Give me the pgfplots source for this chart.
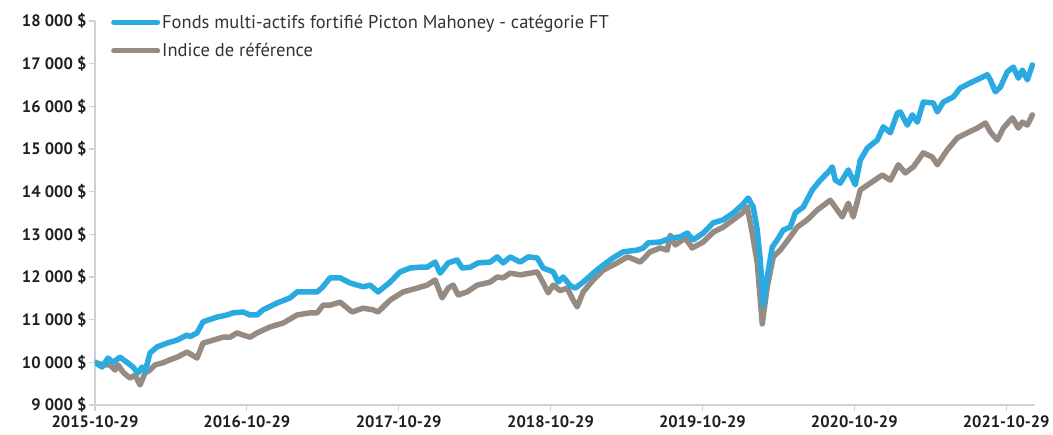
\documentclass[border=0pt]{standalone}
\usepackage{pgfplots}
\pgfplotsset{compat=1.18}
\usepackage{pgfplotstable}
\usepackage{fontspec}
\setmainfont{PT Sans}
\definecolor{fundblue}{HTML}{29ABE2}
\definecolor{idxgrey}{HTML}{968B82}
\definecolor{axgrey}{HTML}{D0D0D0}

% x = horizontal position (px), converted to years since 2015-10-29
\pgfplotstableread{
px val
95 10000
102 9890
108 10100
113 10000
120 10120
127 10000
133 9890
138 9750
142 9890
145 9770
150 10220
157 10360
167 10450
177 10520
187 10640
190 10600
197 10690
203 10950
217 11060
227 11110
233 11160
243 11180
250 11110
257 11110
263 11230
277 11390
290 11510
297 11650
317 11650
322 11750
330 11980
340 11980
350 11860
363 11770
370 11810
378 11650
390 11880
400 12120
410 12210
420 12230
427 12230
435 12350
440 12090
448 12330
457 12400
462 12210
470 12230
478 12330
490 12350
497 12470
503 12330
510 12470
520 12350
528 12470
537 12450
543 12210
553 12120
558 11880
563 12000
570 11800
575 11740
583 11880
593 12090
603 12280
613 12450
623 12590
637 12630
643 12680
648 12800
660 12820
670 12910
680 12940
687 13030
693 12870
703 13030
713 13270
723 13340
733 13500
742 13690
748 13850
753 13640
757 13100
760 12400
763 11350
767 12000
772 12700
777 12870
783 13100
790 13170
795 13500
803 13640
812 14040
820 14270
828 14460
832 14580
835 14270
840 14200
848 14510
855 14160
860 14740
867 15020
877 15210
883 15520
890 15380
897 15840
900 15870
907 15560
912 15800
917 15630
923 16100
933 16080
937 15870
943 16100
953 16220
960 16430
970 16550
980 16660
987 16740
990 16620
995 16340
1000 16450
1007 16810
1013 16920
1018 16660
1022 16850
1027 16620
1032 16970
}\fund

\pgfplotstableread{
px val
95 10000
103 9940
110 9940
115 9820
118 9940
123 9770
130 9630
135 9700
140 9470
145 9750
150 9820
155 9940
163 9990
170 10060
177 10120
187 10240
190 10200
197 10100
203 10450
213 10520
223 10590
230 10590
237 10690
243 10640
250 10590
257 10690
270 10830
283 10920
297 11110
310 11160
317 11160
323 11340
330 11340
340 11410
352 11180
363 11270
373 11230
378 11180
390 11460
403 11650
417 11740
427 11810
435 11930
442 11510
448 11740
453 11810
458 11580
467 11650
477 11810
490 11880
497 12000
503 11980
510 12090
520 12050
530 12090
537 12120
543 11860
548 11630
553 11810
560 11680
567 11740
573 11460
577 11300
583 11650
593 11930
603 12160
617 12330
627 12470
630 12450
640 12350
650 12590
660 12680
667 12630
670 12980
675 12750
685 12910
692 12680
703 12820
713 13050
723 13170
733 13340
742 13500
747 13640
752 13030
757 12330
762 10900
767 11770
773 12470
780 12630
790 12940
797 13170
807 13340
817 13570
830 13800
837 13570
842 13410
848 13730
853 13410
860 14040
870 14200
882 14390
890 14270
898 14630
905 14440
913 14580
923 14910
932 14810
937 14630
947 14980
957 15260
967 15380
977 15490
985 15610
990 15400
997 15210
1003 15490
1012 15730
1018 15490
1022 15630
1027 15560
1032 15800
}\index

\begin{document}
\begin{tikzpicture}
\begin{axis}[
  scale only axis,
  width=940pt, height=384pt,
  xmin=0, xmax=6.19,
  ymin=9000, ymax=18000,
  scaled y ticks=false,
  axis x line=bottom, axis y line=left,
  axis line style={draw=axgrey, line width=1.2pt, -},
  xtick={0,1,2,3,4,5,6},
  xticklabels={2015-10-29,2016-10-29,2017-10-29,2018-10-29,2019-10-29,2020-10-29,2021-10-29},
  ytick={9000,10000,11000,12000,13000,14000,15000,16000,17000,18000},
  yticklabels={9 000 \$,10 000 \$,11 000 \$,12 000 \$,13 000 \$,14 000 \$,15 000 \$,16 000 \$,17 000 \$,18 000 \$},
  tick align=outside,
  major tick length=6pt,
  tick style={draw=axgrey, line width=1.2pt},
  ticklabel style={font=\fontsize{16.5}{18}\selectfont\bfseries, text=black!88},
  yticklabel style={xshift=1pt},
  xticklabel style={yshift=-1pt},
  legend style={draw=none, fill=none, at={(0.017,1.022)}, anchor=north west,
    font=\fontsize{18.5}{20}\selectfont, row sep=10pt, inner sep=0pt,
    text=black!80, cells={anchor=west}},
  legend cell align=left,
  legend image code/.code={\draw[line width=5pt, line cap=round, #1] (0pt,0pt) -- (44pt,0pt);},
]
\addlegendimage{fundblue}
\addlegendentry{Fonds multi-actifs fortifié Picton Mahoney - catégorie FT}
\addlegendimage{idxgrey}
\addlegendentry{Indice de référence}
\addplot[forget plot, idxgrey, line width=5.5pt, line join=round, line cap=round]
  table[x expr={(\thisrow{px}-95)/151.8}, y=val]{\index};
\addplot[forget plot, fundblue, line width=5.5pt, line join=round, line cap=round]
  table[x expr={(\thisrow{px}-95)/151.8}, y=val]{\fund};
\end{axis}
\pgfresetboundingbox
\path[use as bounding box] ([xshift=-95pt,yshift=-30pt]current axis.south west) rectangle ([xshift=18pt,yshift=21pt]current axis.north east);
\end{tikzpicture}
\end{document}
